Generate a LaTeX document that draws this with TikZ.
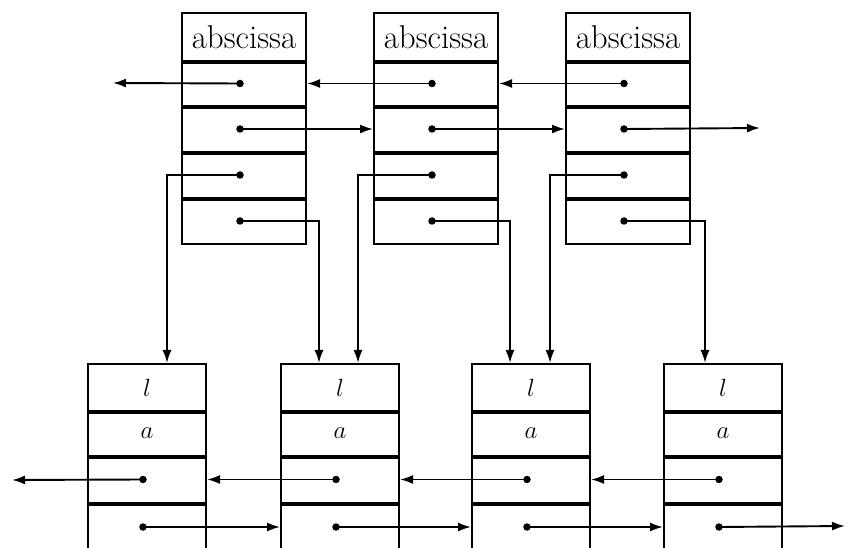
\documentclass[tikz,border=0pt]{standalone}
\usetikzlibrary{arrows.meta}
\begin{document}
\begin{tikzpicture}[x=1pt,y=-1pt,
  cell/.style={draw, line width=2pt, inner sep=0pt, anchor=north west,
    font=\fontsize{33}{38}\selectfont},
  topcell/.style={cell, minimum width=124pt},
  botcell/.style={cell, minimum width=118pt},
  sep/.style={line width=3.4pt},
  dot/.style={circle, fill, inner sep=0pt, minimum size=7.5pt},
  ptr/.style={line width=1.9pt, -{Latex[length=13pt,width=9pt]}}]
\useasboundingbox (0,0) rectangle (847,548);
\clip (0,0) rectangle (847,548);
% top records
\foreach \L [count=\i] in {181,373,565} {
  \node[topcell, minimum height=48pt] (T\i h) at (\L,12) {abscissa};
  \node[topcell, minimum height=45pt] (T\i a) at (\L,60) {};
  \node[topcell, minimum height=46pt] (T\i b) at (\L,105) {};
  \node[topcell, minimum height=46pt] (T\i c) at (\L,151) {};
  \node[topcell, minimum height=46pt] (T\i d) at (\L,197) {};
  \foreach \r in {h,a,b,c} { \draw[sep] (T\i\r.south west) -- (T\i\r.south east); }
  \foreach \r in {a,b,c,d} { \node[dot] (t\i\r) at ([xshift=59pt]T\i\r.west) {}; }
}
% bottom records
\foreach \L [count=\i] in {87,280,471,663} {
  \node[botcell, minimum height=47pt] (B\i l) at (\L,363) {$l$};
  \node[botcell, minimum height=45pt] (B\i a) at (\L,410) {$a$};
  \node[botcell, minimum height=47pt] (B\i c) at (\L,455) {};
  \node[botcell, minimum height=48pt] (B\i d) at (\L,502) {};
  \foreach \r in {l,a,c} { \draw[sep] (B\i\r.south west) -- (B\i\r.south east); }
  \foreach \r in {c,d} { \node[dot] (b\i\r) at ([xshift=56pt]B\i\r.west) {}; }
}
% free ends
\coordinate (TL) at (113,83);
\coordinate (TR) at (760,128);
\coordinate (BL) at (12,480);
\coordinate (BR) at (845,526);
% top horizontal pointers
\draw[ptr] (t1a.center) -- (TL);
\draw[ptr] (t2a.center) -- (T1a.east);
\draw[ptr] (t3a.center) -- (T2a.east);
\draw[ptr] (t1b.center) -- (T2b.west);
\draw[ptr] (t2b.center) -- (T3b.west);
\draw[ptr] (t3b.center) -- (TR);
% top to bottom pointers
\draw[ptr] (t1c.center) -| ([xshift=80pt]B1l.north west);
\draw[ptr] (t2c.center) -| ([xshift=78pt]B2l.north west);
\draw[ptr] (t3c.center) -| ([xshift=79pt]B3l.north west);
\draw[ptr] (t1d.center) -| ([xshift=39pt]B2l.north west);
\draw[ptr] (t2d.center) -| ([xshift=39pt]B3l.north west);
\draw[ptr] (t3d.center) -| ([xshift=42pt]B4l.north west);
% bottom horizontal pointers
\draw[ptr] (b1c.center) -- (BL);
\draw[ptr] (b2c.center) -- (B1c.east);
\draw[ptr] (b3c.center) -- (B2c.east);
\draw[ptr] (b4c.center) -- (B3c.east);
\draw[ptr] (b1d.center) -- (B2d.west);
\draw[ptr] (b2d.center) -- (B3d.west);
\draw[ptr] (b3d.center) -- (B4d.west);
\draw[ptr] (b4d.center) -- (BR);
\end{tikzpicture}
\end{document}
